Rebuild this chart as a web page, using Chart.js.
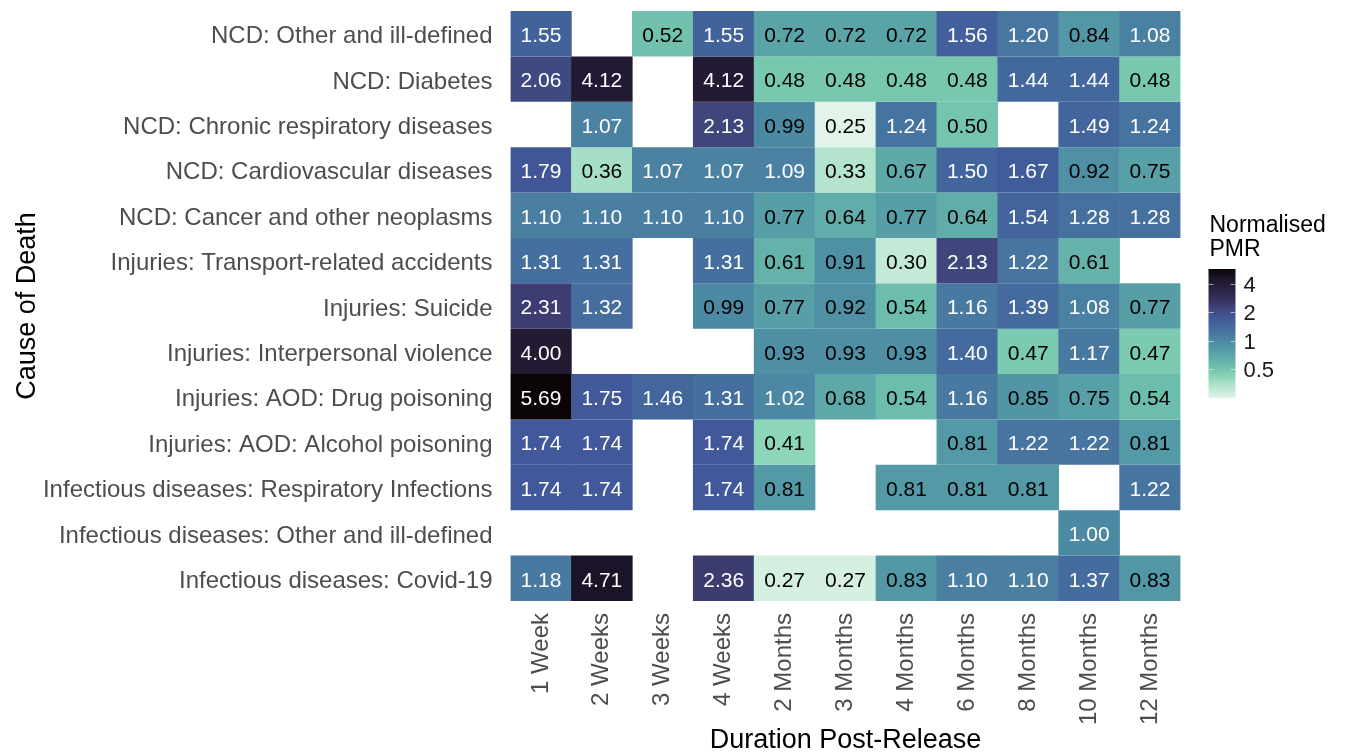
<!DOCTYPE html>
<html>
<head>
<meta charset="utf-8">
<title>Normalised PMR by cause of death and duration post-release</title>
<script src="https://cdn.jsdelivr.net/npm/chart.js@4.4.0/dist/chart.umd.min.js"></script>
<style>
  html, body { margin: 0; padding: 0; background: #ffffff; }
</style>
</head>
<body>
<canvas id="heat" width="1350" height="753"></canvas>
<script>
// columns (x axis)
const durations = ['1 Week', '2 Weeks', '3 Weeks', '4 Weeks', '2 Months', '3 Months',
                   '4 Months', '6 Months', '8 Months', '10 Months', '12 Months'];

// rows (y axis), top to bottom
const causes = [
    'NCD: Other and ill-defined',
    'NCD: Diabetes',
    'NCD: Chronic respiratory diseases',
    'NCD: Cardiovascular diseases',
    'NCD: Cancer and other neoplasms',
    'Injuries: Transport-related accidents',
    'Injuries: Suicide',
    'Injuries: Interpersonal violence',
    'Injuries: AOD: Drug poisoning',
    'Injuries: AOD: Alcohol poisoning',
    'Infectious diseases: Respiratory Infections',
    'Infectious diseases: Other and ill-defined',
    'Infectious diseases: Covid-19'
];

// normalised PMR per row, null = no cell
const ncdOther      = [1.55, null, 0.52, 1.55, 0.72, 0.72, 0.72, 1.56, 1.20, 0.84, 1.08];
const ncdDiabetes   = [2.06, 4.12, null, 4.12, 0.48, 0.48, 0.48, 0.48, 1.44, 1.44, 0.48];
const ncdChronicResp = [null, 1.07, null, 2.13, 0.99, 0.25, 1.24, 0.50, null, 1.49, 1.24];
const ncdCardio     = [1.79, 0.36, 1.07, 1.07, 1.09, 0.33, 0.67, 1.50, 1.67, 0.92, 0.75];
const ncdCancer     = [1.10, 1.10, 1.10, 1.10, 0.77, 0.64, 0.77, 0.64, 1.54, 1.28, 1.28];
const injTransport  = [1.31, 1.31, null, 1.31, 0.61, 0.91, 0.30, 2.13, 1.22, 0.61, null];
const injSuicide    = [2.31, 1.32, null, 0.99, 0.77, 0.92, 0.54, 1.16, 1.39, 1.08, 0.77];
const injViolence   = [4.00, null, null, null, 0.93, 0.93, 0.93, 1.40, 0.47, 1.17, 0.47];
const injDrug       = [5.69, 1.75, 1.46, 1.31, 1.02, 0.68, 0.54, 1.16, 0.85, 0.75, 0.54];
const injAlcohol    = [1.74, 1.74, null, 1.74, 0.41, null, null, 0.81, 1.22, 1.22, 0.81];
const infResp       = [1.74, 1.74, null, 1.74, 0.81, null, 0.81, 0.81, 0.81, null, 1.22];
const infOther      = [null, null, null, null, null, null, null, null, null, 1.00, null];
const infCovid      = [1.18, 4.71, null, 2.36, 0.27, 0.27, 0.83, 1.10, 1.10, 1.37, 0.83];

const rows = [ncdOther, ncdDiabetes, ncdChronicResp, ncdCardio, ncdCancer, injTransport,
              injSuicide, injViolence, injDrug, injAlcohol, infResp, infOther, infCovid];

// colour bar
const legendTicks = [0.5, 1, 2, 4];
const pmrMin = 0.25;
const pmrMax = 5.69;

const FONT = '"Liberation Sans", Arial, Helvetica, sans-serif';

// reversed "mako"-like palette on a log scale
const palette = [
    [0.25, '#e1f4e7'], [0.30, '#c4e9d6'], [0.36, '#a6dfc6'], [0.41, '#8ed6b9'],
    [0.48, '#78c8b0'], [0.54, '#6dbdad'], [0.64, '#62adaa'], [0.72, '#5aa4a8'],
    [0.81, '#5499a6'], [0.92, '#4f90a4'], [1.00, '#4c89a3'], [1.10, '#4a7fa2'],
    [1.20, '#4777a0'], [1.31, '#456f9f'], [1.55, '#42629c'], [1.74, '#41589a'],
    [2.06, '#3f4a80'], [2.31, '#3e3d72'], [3.00, '#302b53'], [4.00, '#231a34'],
    [4.71, '#1b1327'], [5.69, '#0b0405']
];

function hexToRgb(h) {
    return [parseInt(h.slice(1, 3), 16), parseInt(h.slice(3, 5), 16), parseInt(h.slice(5, 7), 16)];
}

function pmrColor(v) {
    if (v <= palette[0][0]) return palette[0][1];
    const last = palette[palette.length - 1];
    if (v >= last[0]) return last[1];
    for (let i = 0; i < palette.length - 1; i++) {
        const a = palette[i], b = palette[i + 1];
        if (v >= a[0] && v <= b[0]) {
            const t = (Math.log(v) - Math.log(a[0])) / (Math.log(b[0]) - Math.log(a[0]));
            const ca = hexToRgb(a[1]), cb = hexToRgb(b[1]);
            const c = ca.map((x, k) => Math.round(x + (cb[k] - x) * t));
            return `rgb(${c[0]}, ${c[1]}, ${c[2]})`;
        }
    }
    return last[1];
}

// numbers inside the tiles
const cellLabels = {
    id: 'cellLabels',
    afterDatasetsDraw(chart) {
        const ctx = chart.ctx;
        ctx.save();
        ctx.font = '21px ' + FONT;
        ctx.textAlign = 'center';
        ctx.textBaseline = 'middle';
        chart.data.datasets.forEach((ds, r) => {
            chart.getDatasetMeta(r).data.forEach((bar, c) => {
                const v = rows[r][c];
                if (v == null) return;
                const p = bar.getCenterPoint();
                ctx.fillStyle = v >= 1 ? '#ffffff' : '#000000';
                ctx.fillText(v.toFixed(2), p.x, p.y + 2.5);
            });
        });
        ctx.restore();
    }
};

// colour bar legend on the right
const colourBar = {
    id: 'colourBar',
    afterDraw(chart) {
        const ctx = chart.ctx;
        const x0 = chart.chartArea.right + 28;
        const w = 27;
        const top = 269, bottom = 398;
        const lmin = Math.log(pmrMin), lmax = Math.log(pmrMax);
        const yOf = v => top + (lmax - Math.log(v)) / (lmax - lmin) * (bottom - top);

        ctx.save();
        for (let y = top; y < bottom; y++) {
            const v = Math.exp(lmax - (y + 0.5 - top) / (bottom - top) * (lmax - lmin));
            ctx.fillStyle = pmrColor(v);
            ctx.fillRect(x0, y, w, 1);
        }

        ctx.strokeStyle = 'rgba(255, 255, 255, 0.55)';
        ctx.lineWidth = 1.2;
        ctx.fillStyle = '#1a1a1a';
        ctx.font = '22px ' + FONT;
        ctx.textAlign = 'left';
        ctx.textBaseline = 'middle';
        legendTicks.forEach(t => {
            const y = Math.round(yOf(t)) + 0.5;
            ctx.beginPath();
            ctx.moveTo(x0, y); ctx.lineTo(x0 + 5, y);
            ctx.moveTo(x0 + w - 5, y); ctx.lineTo(x0 + w, y);
            ctx.stroke();
            ctx.fillText(String(t), x0 + w + 8, y + 1);
        });

        ctx.fillStyle = '#000000';
        ctx.font = '23px ' + FONT;
        ctx.textBaseline = 'alphabetic';
        ctx.fillText('Normalised', x0 + 1, 232);
        ctx.fillText('PMR', x0 + 1, 256);
        ctx.restore();
    }
};

const datasets = causes.map((cause, r) => ({
    label: cause,
    data: rows[r].map(v => (v == null ? null : [r - 0.5, r + 0.5])),
    backgroundColor: ctx => pmrColor(rows[ctx.datasetIndex][ctx.dataIndex]),
    borderWidth: 0,
    grouped: false,
    barPercentage: 1.01,
    categoryPercentage: 1
}));

new Chart(document.getElementById('heat'), {
    type: 'bar',
    data: { labels: durations, datasets: datasets },
    options: {
        responsive: false,
        animation: false,
        layout: { padding: { top: 11, right: 169.5, bottom: 0, left: 0 } },
        plugins: {
            legend: { display: false },
            tooltip: { enabled: false }
        },
        scales: {
            x: {
                type: 'category',
                grid: { display: false },
                border: { display: false },
                ticks: {
                    minRotation: 90,
                    maxRotation: 90,
                    autoSkip: false,
                    padding: 4,
                    color: '#4d4d4d',
                    font: { family: FONT, size: 24 }
                },
                title: {
                    display: true,
                    text: 'Duration Post-Release',
                    color: '#000000',
                    font: { family: FONT, size: 27 },
                    padding: { top: 0, bottom: -4 }
                },
                afterFit: s => {
                    s.height = 152;
                    s.paddingLeft = 0;
                    s.paddingRight = 0;
                }
            },
            y: {
                type: 'linear',
                reverse: true,
                min: -0.5,
                max: 12.5,
                grid: { display: false },
                border: { display: false },
                afterBuildTicks: s => {
                    s.ticks = causes.map((c, i) => ({ value: i }));
                },
                ticks: {
                    autoSkip: false,
                    padding: 10,
                    labelOffset: 3,
                    color: '#4d4d4d',
                    font: { family: FONT, size: 24 },
                    callback: v => (causes[v] !== undefined ? causes[v] : '')
                },
                title: {
                    display: true,
                    text: 'Cause of Death',
                    color: '#000000',
                    font: { family: FONT, size: 27 },
                    padding: { top: 11, bottom: 0 }
                },
                afterFit: s => {
                    s.width = 510.5;
                    s.paddingTop = 0;
                    s.paddingBottom = 0;
                }
            }
        }
    },
    plugins: [cellLabels, colourBar]
});
</script>
</body>
</html>
